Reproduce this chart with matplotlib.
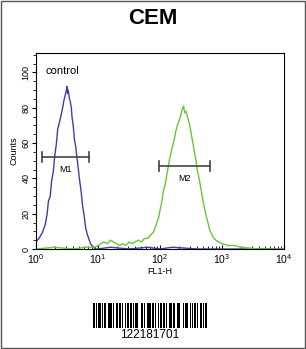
import matplotlib
matplotlib.use("Agg")
import matplotlib.pyplot as plt
import numpy as np
from matplotlib.patches import Rectangle

plt.rcParams['font.family'] = ['Liberation Sans', 'DejaVu Sans']
plt.rcParams['mathtext.fontset'] = 'custom'
plt.rcParams['mathtext.rm'] = 'Liberation Sans'
plt.rcParams['mathtext.default'] = 'regular'

# control histogram (blue), x in log10 decades
ctrl_log = [0.00, 0.005, 0.02, 0.05, 0.08, 0.10, 0.13, 0.15, 0.18, 0.20, 0.23, 0.25, 0.28,
            0.30, 0.33, 0.35, 0.38, 0.40, 0.43, 0.45, 0.47, 0.49, 0.50, 0.51, 0.52, 0.54,
            0.55, 0.57, 0.58, 0.60, 0.62, 0.64, 0.66, 0.68, 0.70, 0.73, 0.75, 0.78, 0.80,
            0.83, 0.85, 0.88, 0.90, 0.93, 0.96, 1.00, 1.20, 1.50, 1.80, 2.00, 2.20, 2.60,
            3.00, 3.50, 4.00]
ctrl_cnt = [25, 4, 5, 6, 8, 9, 12, 14, 20, 27, 30, 38, 44, 52, 60, 68, 72, 75, 80, 84,
            87, 90, 92, 88, 90, 85, 84, 80, 75, 70, 62, 58, 52, 46, 40, 32, 25, 18, 12,
            8, 6, 3, 2, 1, 0, 0, 1, 0, 1, 0, 1, 0, 0, 0, 0]

# sample histogram (green)
samp_log = [0.00, 0.30, 0.60, 0.80, 0.95, 1.00, 1.05, 1.10, 1.15, 1.20, 1.25, 1.30, 1.35,
            1.40, 1.45, 1.50, 1.55, 1.60, 1.65, 1.70, 1.75, 1.80, 1.85, 1.88, 1.90, 1.93,
            1.95, 1.98, 2.00, 2.03, 2.05, 2.08, 2.10, 2.13, 2.15, 2.18, 2.20, 2.23, 2.25,
            2.28, 2.30, 2.33, 2.35, 2.37, 2.38, 2.40, 2.42, 2.45, 2.48, 2.50, 2.53, 2.55,
            2.58, 2.60, 2.63, 2.65, 2.68, 2.70, 2.73, 2.75, 2.78, 2.80, 2.85, 2.90, 2.95,
            3.00, 3.10, 3.20, 3.30, 3.60, 4.00]
samp_cnt = [0, 1, 0, 1, 1, 2, 3, 4, 3, 5, 4, 3, 2, 3, 2, 4, 3, 4, 5, 4, 6, 6, 8, 9, 10,
            13, 15, 18, 22, 27, 32, 36, 40, 46, 50, 55, 58, 62, 66, 70, 72, 75, 78, 80, 81,
            77, 78, 74, 70, 66, 60, 56, 50, 45, 40, 36, 30, 26, 21, 18, 14, 11, 7, 5, 4,
            3, 2, 2, 1, 0, 0]

markers = ['M1', 'M2']
marker_lo = [0.10, 1.98]
marker_hi = [0.86, 2.81]
marker_y = [52, 47]

title = 'CEM'
barcode_text = '122181701'
barcode_pattern = ('1101001110101100101110100110111010010110011010111001011010011101'
                   '0110100101110110100110101100111010010111001101011010011101011')

fig = plt.figure(figsize=(3.06, 3.49), dpi=100)
ax = fig.add_axes([36/306, 100/349, 248/306, 196/349])

ax.plot(10**np.array(ctrl_log), ctrl_cnt, color='#3b3fa6', lw=1.0)
ax.plot(10**np.array(samp_log), samp_cnt, color='#6ac53a', lw=1.0)

for name, lo, hi, yv in zip(markers, marker_lo, marker_hi, marker_y):
    ax.plot([10**lo, 10**hi], [yv, yv], color='#444444', lw=1.2)
    ax.plot([10**lo, 10**lo], [yv-3, yv+3], color='#444444', lw=1.2)
    ax.plot([10**hi, 10**hi], [yv-3, yv+3], color='#444444', lw=1.2)
    ax.text(10**((lo+hi)/2), yv-7, name, ha='center', va='center', fontsize=6.5)

ax.text(10**0.15, 101, 'control', fontsize=8, va='center')

ax.set_xscale('log')
ax.set_xlim(1, 1e4)
ax.set_ylim(0, 111)
ax.set_yticks([0, 20, 40, 60, 80, 100])
ax.set_yticks(np.arange(0, 111, 5), minor=True)
ax.tick_params(axis='y', labelsize=6.5, labelrotation=90, length=3, width=0.8, pad=1)
ax.tick_params(axis='y', which='minor', length=2)
for t in ax.get_yticklabels():
    t.set_va('center')
ax.tick_params(axis='x', labelsize=7.5, length=3, pad=2, direction='in')
ax.tick_params(axis='x', which='minor', length=2, direction='in')
ax.set_xlabel('FL1-H', fontsize=6.5, labelpad=1)
ax.set_ylabel('Counts', fontsize=6.5, labelpad=2)
for s in ax.spines.values():
    s.set_linewidth(0.8)

fig.text(0.5, 1 - 18/349, title, ha='center', va='center', fontsize=16, fontweight='bold')

# barcode
bx = fig.add_axes([93/306, 21/349, 114/306, 25/349])
bits = np.array([int(c) for c in barcode_pattern])
bx.bar(np.arange(len(bits))[bits == 1], 1, width=1.0, align='edge', color='black')
bx.set_xlim(0, len(bits))
bx.set_ylim(0, 1)
bx.axis('off')
fig.text(150/306, 1 - 335/349, barcode_text, ha='center', va='center', fontsize=8.5)

fig.patches.append(Rectangle((0.002, 0.002), 0.995, 0.995, transform=fig.transFigure,
                             fill=False, edgecolor='#555555', lw=1.0))

fig.savefig('out.png', dpi=100)
